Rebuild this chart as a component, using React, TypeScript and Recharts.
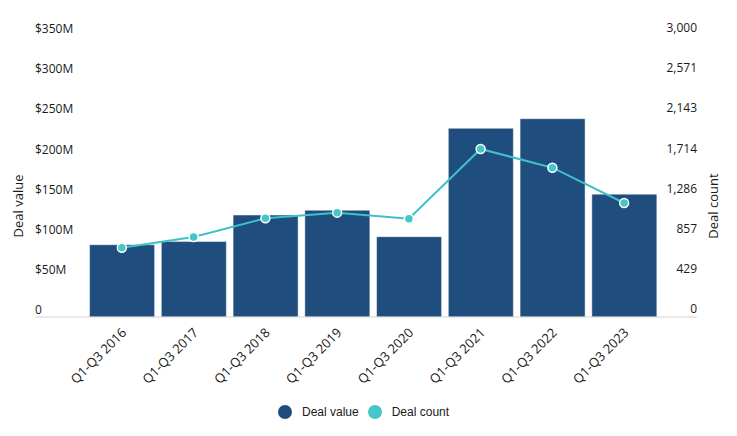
import React from 'react';
import { ComposedChart, Bar, Line, XAxis, YAxis, Legend } from 'recharts';

const categories = [
  'Q1-Q3 2016',
  'Q1-Q3 2017',
  'Q1-Q3 2018',
  'Q1-Q3 2019',
  'Q1-Q3 2020',
  'Q1-Q3 2021',
  'Q1-Q3 2022',
  'Q1-Q3 2023',
];
const dealValue = [90, 94, 127, 133, 100, 235, 247, 153];
const dealCount = [740, 854, 1054, 1114, 1050, 1794, 1594, 1217];

const valueTicks = [0, 50, 100, 150, 200, 250, 300, 350];
const valueTickLabels = ['0', '$50M', '$100M', '$150M', '$200M', '$250M', '$300M', '$350M'];
const countMax = 3000;
const countTickLabels = ['0', '429', '857', '1,286', '1,714', '2,143', '2,571', '3,000'];
const countTicks = countTickLabels.map((_, i) => (countMax * i) / (countTickLabels.length - 1));

const legendOrder = ['value', 'count'];

const data = categories.map((c, i) => ({ name: c, value: dealValue[i], count: dealCount[i] }));

const BAR_COLOR = '#1f4e7e';
const LINE_COLOR = '#3fc0c6';
const DOT_COLOR = '#45c6cb';
const FONT = '"Open Sans", sans-serif';
const TEXT_COLOR = '#1a1a1a';

const LeftTick = (props: any) => {
  const { y, payload, index } = props;
  const label = valueTickLabels[index] ?? String(payload.value);
  return (
    <g>
      {payload.value === 0 && (
        <line x1={35} x2={697} y1={y} y2={y} stroke="#d4d4d4" strokeWidth={1} />
      )}
      <text x={35} y={y - 6} textAnchor="start" dominantBaseline="middle" fontFamily={FONT} fontSize={12} fill={TEXT_COLOR}>
        {label}
      </text>
    </g>
  );
};

const RightTick = (props: any) => {
  const { y, index, payload } = props;
  const label = countTickLabels[index] ?? String(payload.value);
  return (
    <text x={697} y={y - 7} textAnchor="end" dominantBaseline="middle" fontFamily={FONT} fontSize={12} fill={TEXT_COLOR}>
      {label}
    </text>
  );
};

const XTick = (props: any) => {
  const { x, y, payload } = props;
  return (
    <g transform={`translate(${x + 3},${y + 6})`}>
      <text x={0} y={0} textAnchor="end" dominantBaseline="middle" transform="rotate(-45)" fontFamily={FONT} fontSize={13} fill={TEXT_COLOR}>
        {payload.value}
      </text>
    </g>
  );
};

const leftTitle = () => (
  <text x={20} y={206} transform="rotate(-90 20 206)" textAnchor="middle" dominantBaseline="middle" fontFamily={FONT} fontSize={13} fill={TEXT_COLOR}>
    Deal value
  </text>
);

const rightTitle = () => (
  <text x={715} y={206} transform="rotate(-90 715 206)" textAnchor="middle" dominantBaseline="middle" fontFamily={FONT} fontSize={13} fill={TEXT_COLOR}>
    Deal count
  </text>
);

const renderLegend = (props: any) => {
  const payload = [...(props.payload || [])].sort(
    (a: any, b: any) => legendOrder.indexOf(a.dataKey) - legendOrder.indexOf(b.dataKey)
  );
  return (
    <div style={{ height: 40, position: 'relative', width: 737 }}>
      <div style={{ position: 'absolute', left: 278, top: 9, display: 'flex', alignItems: 'center' }}>
        {payload.map((entry: any, i: number) => (
          <div key={i} style={{ display: 'flex', alignItems: 'center', marginRight: 9 }}>
            <svg width={14} height={14} style={{ display: 'block' }}>
              <circle cx={7} cy={7} r={7} fill={entry.dataKey === 'count' ? DOT_COLOR : BAR_COLOR} />
            </svg>
            <span style={{ marginLeft: 10, fontFamily: '"Liberation Sans", Arial, sans-serif', fontSize: 12, color: TEXT_COLOR }}>
              {entry.value}
            </span>
          </div>
        ))}
      </div>
    </div>
  );
};

export default function App() {
  return (
    <div style={{ position: 'absolute', left: 0, top: 0, width: 737, height: 436, background: '#fff' }}>
      <ComposedChart
        width={737}
        height={436}
        data={data}
        margin={{ top: 36, right: 0, bottom: 0, left: 0 }}
        barCategoryGap="5%"
      >
        <XAxis dataKey="name" height={79} axisLine={false} tickLine={false} interval={0} tick={XTick} />
        <YAxis
          yAxisId="left"
          orientation="left"
          width={86}
          domain={[0, 350]}
          ticks={valueTicks}
          axisLine={false}
          tickLine={false}
          tick={LeftTick}
          label={leftTitle}
        />
        <YAxis
          yAxisId="right"
          orientation="right"
          width={77}
          domain={[0, countMax]}
          ticks={countTicks}
          axisLine={false}
          tickLine={false}
          tick={RightTick}
          label={rightTitle}
        />
        <Bar
          yAxisId="left"
          dataKey="value"
          name="Deal value"
          fill={BAR_COLOR}
          stroke="#ffffff"
          strokeOpacity={0.45}
          strokeWidth={1}
          isAnimationActive={false}
        />
        <Line
          yAxisId="right"
          type="linear"
          dataKey="count"
          name="Deal count"
          stroke={LINE_COLOR}
          strokeWidth={2}
          dot={{ r: 4.5, fill: DOT_COLOR, stroke: '#ffffff', strokeWidth: 1.5 }}
          activeDot={false}
          isAnimationActive={false}
        />
        <Legend verticalAlign="bottom" height={40} content={renderLegend} />
      </ComposedChart>
    </div>
  );
}
